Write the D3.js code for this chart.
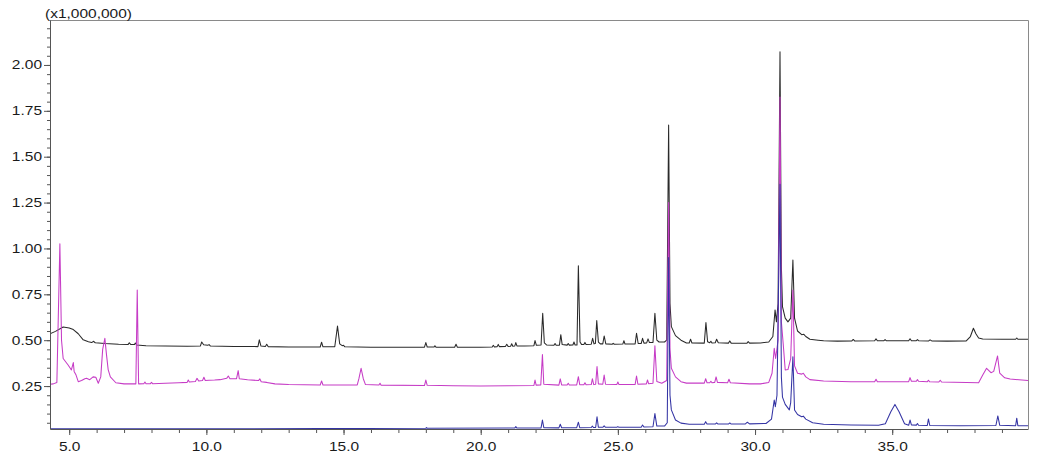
<!DOCTYPE html>
<html><head><meta charset="utf-8">
<script src="https://cdn.jsdelivr.net/npm/d3@7/dist/d3.min.js"></script>
<style>body{margin:0;background:#fff;} svg{display:block;}</style>
</head><body>
<svg id="chart" width="1060" height="472"></svg>
<script>
// ---- axis settings / tick labels ----
const xDomain = [4.3, 39.95];
const yDomain = [0.016, 2.245];
const xMinorTicks = d3.range(5, 40, 1);
const xMajorTicks = [5, 10, 15, 20, 25, 30, 35];
const xTickLabels = ["5.0", "10.0", "15.0", "20.0", "25.0", "30.0", "35.0"];
const yMinorTicks = d3.range(1, 45).map(i => +(i * 0.05).toFixed(2));
const yMajorTicks = [0.25, 0.5, 0.75, 1.0, 1.25, 1.5, 1.75, 2.0];
const yTickLabels = ["0.25", "0.50", "0.75", "1.00", "1.25", "1.50", "1.75", "2.00"];
const yUnitLabel = "(x1,000,000)";

// ---- series: [retention time (min), intensity (x1,000,000)] ----
const blackTrace = [
[4.30,0.535],[4.50,0.548],[4.78,0.572],[5.00,0.566],[5.15,0.558],[5.33,0.535],[5.51,0.502],[5.70,0.492],
[5.82,0.487],[5.88,0.494],[5.95,0.486],[6.30,0.482],[6.80,0.478],[7.15,0.477],[7.19,0.486],[7.24,0.477],
[7.38,0.476],[7.41,0.485],[7.46,0.474],[7.80,0.470],[8.50,0.468],[9.30,0.467],[9.78,0.468],[9.83,0.490],
[9.90,0.475],[10.05,0.472],[10.10,0.476],[10.15,0.468],[11.00,0.466],[11.88,0.465],[11.93,0.502],[11.99,0.468],
[12.15,0.466],[12.20,0.478],[12.25,0.465],[13.00,0.463],[14.15,0.463],[14.20,0.489],[14.25,0.464],
[14.68,0.464],[14.78,0.577],[14.86,0.480],[14.95,0.470],[15.00,0.472],[15.05,0.464],[16.00,0.462],
[17.95,0.462],[18.00,0.487],[18.05,0.463],[18.30,0.463],[18.33,0.470],[18.37,0.462],[19.05,0.462],
[19.10,0.478],[19.15,0.462],[20.00,0.462],[20.42,0.463],[20.46,0.472],[20.50,0.463],[20.60,0.465],
[20.64,0.477],[20.68,0.465],[20.90,0.466],[20.95,0.478],[21.00,0.466],[21.09,0.467],[21.13,0.481],
[21.17,0.467],[21.24,0.468],[21.28,0.487],[21.32,0.469],[21.60,0.468],[21.94,0.470],[21.98,0.498],
[22.03,0.472],[22.20,0.474],[22.26,0.647],[22.32,0.485],[22.40,0.474],[22.67,0.472],[22.71,0.482],
[22.75,0.472],[22.87,0.473],[22.92,0.530],[22.97,0.476],[23.15,0.473],[23.19,0.482],[23.23,0.473],
[23.36,0.474],[23.40,0.490],[23.44,0.474],[23.51,0.474],[23.56,0.905],[23.62,0.490],[23.68,0.476],
[23.76,0.476],[23.80,0.488],[23.84,0.476],[24.03,0.478],[24.08,0.510],[24.13,0.480],[24.18,0.482],
[24.23,0.607],[24.29,0.490],[24.36,0.480],[24.45,0.480],[24.50,0.523],[24.56,0.480],[24.79,0.478],
[24.83,0.483],[24.87,0.478],[25.18,0.479],[25.22,0.497],[25.26,0.479],[25.63,0.480],[25.68,0.538],
[25.74,0.482],[25.85,0.482],[25.90,0.510],[25.95,0.484],[26.05,0.485],[26.10,0.507],[26.15,0.487],
[26.28,0.488],[26.35,0.647],[26.42,0.500],[26.50,0.490],[26.70,0.490],[26.78,0.500],[26.85,1.673],
[26.90,0.700],[26.95,0.574],[27.10,0.525],[27.30,0.500],[27.50,0.485],[27.60,0.485],[27.65,0.505],
[27.70,0.485],[28.15,0.484],[28.21,0.596],[28.27,0.492],[28.35,0.486],[28.39,0.494],[28.43,0.485],
[28.55,0.486],[28.60,0.505],[28.66,0.486],[29.03,0.484],[29.08,0.496],[29.13,0.484],[29.70,0.483],
[29.75,0.492],[29.80,0.484],[30.20,0.485],[30.50,0.490],[30.65,0.520],[30.73,0.665],[30.78,0.600],
[30.84,0.700],[30.91,2.072],[30.96,0.900],[31.00,0.683],[31.10,0.620],[31.20,0.600],[31.30,0.620],
[31.38,0.937],[31.44,0.620],[31.55,0.550],[31.70,0.530],[31.78,0.532],[31.85,0.520],[32.00,0.505],
[32.30,0.500],[32.50,0.497],[33.00,0.495],[33.53,0.496],[33.58,0.504],[33.63,0.496],[34.36,0.497],
[34.41,0.507],[34.46,0.497],[34.70,0.497],[34.74,0.503],[34.78,0.497],[35.60,0.497],[35.65,0.508],
[35.70,0.497],[35.88,0.497],[35.92,0.503],[35.96,0.497],[36.33,0.496],[36.38,0.502],[36.44,0.496],
[37.00,0.495],[37.70,0.496],[37.85,0.520],[37.96,0.565],[38.05,0.535],[38.15,0.512],[38.30,0.506],
[39.00,0.505],[39.50,0.505],[39.54,0.512],[39.58,0.505],[39.95,0.505]
];

const magentaTrace = [
[4.30,0.260],[4.42,0.262],[4.55,0.270],[4.66,1.025],[4.72,0.500],[4.78,0.400],[4.96,0.365],[5.08,0.338],
[5.15,0.378],[5.18,0.330],[5.25,0.310],[5.33,0.274],[5.45,0.280],[5.57,0.290],[5.63,0.292],[5.75,0.285],
[5.87,0.300],[5.97,0.298],[6.06,0.265],[6.15,0.300],[6.22,0.450],[6.30,0.510],[6.36,0.420],[6.42,0.340],
[6.50,0.300],[6.70,0.268],[7.00,0.262],[7.43,0.262],[7.48,0.774],[7.53,0.262],[7.72,0.263],[7.76,0.272],
[7.80,0.263],[7.96,0.263],[8.00,0.270],[8.04,0.263],[8.50,0.265],[9.00,0.268],[9.30,0.270],[9.34,0.283],
[9.38,0.272],[9.60,0.275],[9.66,0.292],[9.72,0.278],[9.86,0.280],[9.91,0.298],[9.96,0.280],[10.10,0.282],
[10.30,0.283],[10.50,0.285],[10.74,0.292],[10.80,0.305],[10.86,0.290],[11.10,0.290],[11.16,0.334],
[11.20,0.290],[11.50,0.284],[11.90,0.280],[11.95,0.289],[12.00,0.274],[12.20,0.270],[12.50,0.262],
[13.00,0.258],[14.15,0.256],[14.20,0.278],[14.25,0.256],[15.50,0.256],[15.56,0.290],[15.64,0.347],
[15.72,0.290],[15.80,0.258],[16.29,0.256],[16.33,0.265],[16.37,0.255],[17.95,0.253],[18.00,0.283],
[18.05,0.254],[19.00,0.252],[20.00,0.250],[21.00,0.252],[21.94,0.253],[21.98,0.283],[22.02,0.255],
[22.19,0.256],[22.25,0.422],[22.30,0.260],[22.85,0.255],[22.90,0.289],[22.95,0.256],[23.15,0.256],
[23.19,0.265],[23.23,0.256],[23.50,0.256],[23.56,0.301],[23.61,0.257],[23.76,0.257],[23.80,0.268],
[23.84,0.257],[24.03,0.258],[24.07,0.290],[24.12,0.258],[24.19,0.260],[24.24,0.356],[24.29,0.262],
[24.45,0.260],[24.50,0.310],[24.55,0.260],[24.96,0.258],[25.00,0.272],[25.04,0.258],[25.63,0.259],
[25.68,0.305],[25.73,0.260],[26.04,0.262],[26.08,0.283],[26.12,0.263],[26.28,0.265],[26.35,0.470],
[26.42,0.275],[26.60,0.265],[26.78,0.280],[26.85,1.250],[26.90,0.450],[26.95,0.347],[27.10,0.300],
[27.30,0.274],[27.50,0.266],[28.15,0.266],[28.20,0.290],[28.25,0.268],[28.35,0.268],[28.39,0.276],
[28.43,0.268],[28.53,0.270],[28.58,0.300],[28.63,0.270],[29.00,0.268],[29.05,0.287],[29.10,0.268],
[29.80,0.262],[30.20,0.262],[30.50,0.270],[30.62,0.320],[30.70,0.456],[30.75,0.400],[30.84,0.500],
[30.91,1.825],[30.96,0.600],[31.03,0.474],[31.10,0.338],[31.20,0.340],[31.30,0.400],[31.38,0.774],
[31.44,0.360],[31.55,0.320],[31.70,0.315],[31.76,0.320],[31.85,0.300],[32.00,0.285],[32.50,0.278],
[33.50,0.273],[34.36,0.273],[34.41,0.287],[34.46,0.273],[35.60,0.274],[35.65,0.296],[35.70,0.276],
[35.88,0.276],[35.92,0.285],[35.96,0.276],[36.28,0.274],[36.32,0.282],[36.36,0.274],[36.70,0.272],
[36.75,0.282],[36.80,0.272],[38.15,0.268],[38.30,0.310],[38.44,0.347],[38.60,0.323],[38.70,0.330],
[38.84,0.414],[38.92,0.320],[39.10,0.295],[39.30,0.288],[39.95,0.280]
];

const blueTrace = [
[4.30,0.017],[10.00,0.017],[14.20,0.018],[18.00,0.020],[18.02,0.024],[18.05,0.020],[21.00,0.021],
[21.24,0.021],[21.28,0.029],[21.32,0.021],[22.20,0.022],[22.25,0.065],[22.30,0.023],[22.85,0.022],
[22.90,0.042],[22.95,0.023],[23.50,0.023],[23.56,0.053],[23.61,0.023],[24.03,0.024],[24.07,0.032],
[24.11,0.024],[24.19,0.024],[24.24,0.083],[24.29,0.025],[24.45,0.025],[24.50,0.033],[24.55,0.025],
[24.96,0.025],[25.00,0.029],[25.04,0.025],[25.85,0.026],[25.90,0.038],[25.95,0.027],[26.28,0.028],
[26.35,0.100],[26.42,0.032],[26.70,0.032],[26.80,0.050],[26.85,0.950],[26.90,0.200],[26.95,0.120],
[27.10,0.065],[27.30,0.048],[27.60,0.042],[28.15,0.042],[28.20,0.056],[28.25,0.043],[28.55,0.043],
[28.60,0.050],[28.65,0.043],[29.03,0.043],[29.08,0.049],[29.13,0.043],[29.65,0.044],[29.72,0.053],
[29.80,0.044],[30.40,0.046],[30.60,0.070],[30.70,0.174],[30.74,0.138],[30.80,0.200],[30.91,1.350],
[30.96,0.300],[31.00,0.190],[31.10,0.150],[31.25,0.120],[31.30,0.160],[31.38,0.410],[31.44,0.120],
[31.55,0.095],[31.70,0.083],[31.76,0.086],[31.85,0.070],[32.10,0.050],[32.50,0.042],[33.50,0.038],
[34.50,0.036],[34.75,0.045],[34.95,0.110],[35.10,0.150],[35.25,0.110],[35.45,0.045],[35.60,0.036],
[35.65,0.065],[35.70,0.038],[35.88,0.037],[35.92,0.046],[35.96,0.036],[36.28,0.035],[36.32,0.071],
[36.37,0.035],[37.50,0.034],[38.78,0.035],[38.85,0.087],[38.92,0.036],[39.50,0.034],[39.54,0.075],
[39.58,0.034],[39.95,0.034]
];

const seriesList = [
  {name: "sample 1", data: blackTrace, color: "#2a2a2a"},
  {name: "sample 2", data: magentaTrace, color: "#c63cc6"},
  {name: "sample 3", data: blueTrace, color: "#3434a4"}
];

// ---- layout ----
const W = 1060, H = 472;
const margin = {left: 50, right: 32, top: 20, bottom: 43};
const svg = d3.select("#chart");
const x = d3.scaleLinear().domain(xDomain).range([margin.left, W - margin.right]);
const y = d3.scaleLinear().domain(yDomain).range([H - margin.bottom, margin.top]);
const FONT = "'Liberation Sans', Arial, sans-serif";
const STRETCH = 1.24;

// frame (top and right)
svg.append("path")
  .attr("d", `M${x.range()[0]},${y.range()[1]+0.5}H${x.range()[1]+0.5}V${y.range()[0]}`)
  .attr("fill", "none").attr("stroke", "#8a8a8a").attr("stroke-width", 1);

// clip
svg.append("clipPath").attr("id", "clip").append("rect")
  .attr("x", x.range()[0]).attr("y", y.range()[1])
  .attr("width", x.range()[1] - x.range()[0]).attr("height", y.range()[0] - y.range()[1]);

const line = d3.line().x(d => x(d[0])).y(d => y(d[1]));
svg.append("g").attr("clip-path", "url(#clip)")
  .selectAll("path").data(seriesList).join("path")
  .attr("d", s => line(s.data))
  .attr("fill", "none").attr("stroke", s => s.color).attr("stroke-width", 1.05)
  .attr("stroke-linejoin", "round");

// x axis
const gx = svg.append("g").attr("transform", `translate(0,${y.range()[0]})`);
gx.call(d3.axisBottom(x).tickValues(xMinorTicks).tickFormat("").tickSize(4).tickSizeOuter(0));
const gxM = svg.append("g").attr("transform", `translate(0,${y.range()[0]})`);
gxM.call(d3.axisBottom(x).tickValues(xMajorTicks)
  .tickFormat((d, i) => xTickLabels[i]).tickSize(6).tickPadding(7).tickSizeOuter(0));
gxM.select(".domain").remove();

// y axis
const gy = svg.append("g").attr("transform", `translate(${x.range()[0]},0)`);
gy.call(d3.axisLeft(y).tickValues(yMinorTicks).tickFormat("").tickSize(3).tickSizeOuter(0));
const gyM = svg.append("g").attr("transform", `translate(${x.range()[0]},0)`);
gyM.call(d3.axisLeft(y).tickValues(yMajorTicks)
  .tickFormat((d, i) => yTickLabels[i]).tickSize(6).tickPadding(2).tickSizeOuter(0));
gyM.select(".domain").remove();

svg.selectAll(".domain").attr("stroke", "#555");
svg.selectAll(".tick line").attr("stroke", "#555");
svg.selectAll(".tick text").attr("font-family", FONT).attr("font-size", 12.5).attr("fill", "#1a1a1a");
gyM.selectAll(".tick text").attr("x", -8 / STRETCH).attr("transform", `scale(${STRETCH},1)`);
gxM.selectAll(".tick text").attr("transform", `scale(${STRETCH},1)`);

// unit label
svg.append("text").attr("transform", `translate(45,18) scale(${STRETCH},1)`)
  .attr("font-family", FONT).attr("font-size", 12.5).attr("fill", "#1a1a1a").text(yUnitLabel);
</script>
</body></html>
